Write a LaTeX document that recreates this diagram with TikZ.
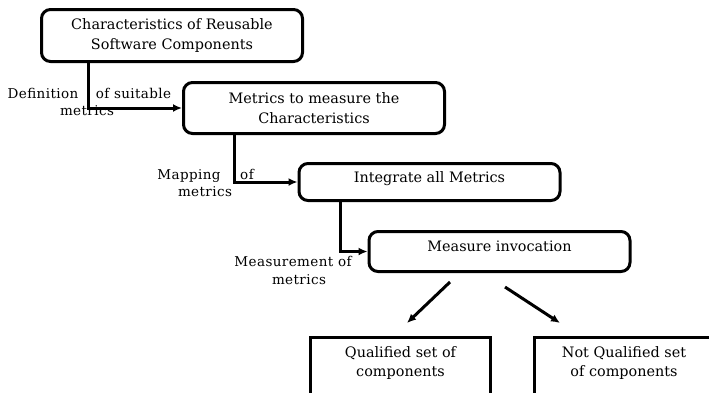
\documentclass[tikz,border=0pt]{standalone}
\usepackage{fontspec}
\setmainfont{DejaVu Serif}
\usetikzlibrary{arrows.meta,positioning,calc}

\begin{document}
\begin{tikzpicture}[x=1pt, y=-1pt,
    flowbox/.style={rectangle, draw=black, line width=3pt,
                 rounded corners=9pt, minimum width=261pt,
                 font=\fontsize{14.4}{19.5}\selectfont,
                 align=center, inner sep=2pt},
    outbox/.style={rectangle, draw=black, line width=3pt,
                 minimum width=180pt, minimum height=80pt,
                 font=\fontsize{14.4}{19.5}\selectfont,
                 align=center, anchor=north,
                 text height=11pt, text depth=13pt},
    arr/.style={-{Latex[length=9pt, width=8pt]}, line width=3pt},
    lbl/.style={font=\fontsize{13.5}{15}\selectfont\addfontfeature{LetterSpace=3},
                inner sep=0pt, text height=9.5pt, text depth=2.5pt},
  ]
  \clip (0,0) rectangle (709,392);

  % Main flow
  \node[flowbox, minimum height=52pt] (chars) at (172,35.5)
    {Characteristics of Reusable\\Software Components};
  \node[flowbox, minimum height=51pt] (metr) at (314,108)
    {Metrics to measure the\\Characteristics};
  \node[flowbox, minimum height=37pt, text height=11pt, text depth=11pt]
    (integ) at (429.5,182) {Integrate all Metrics};
  \node[flowbox, minimum height=40pt, text height=11pt, text depth=11pt]
    (meas) at (499.5,251.5) {Measure invocation};

  \draw[arr] ([xshift=-84pt]chars.south) |- (metr.west);
  \draw[arr] ([xshift=-80pt]metr.south) |- (integ.west);
  \draw[arr] ([xshift=-89.5pt]integ.south) |- (meas.west);

  % Labels on the connectors
  \node[lbl] (lbldef) at (43,95) {Definition};
  \node[lbl] (lblsuit) at (133.5,95) {of suitable};
  \node[lbl] (lblmetA) at (87,112) {metrics};
  \node[lbl] (lblmap) at (189,176) {Mapping};
  \node[lbl] (lblof) at (247,176) {of};
  \node[lbl] (lblmetB) at (205,193) {metrics};
  \node[lbl] (lblmeas) at (293,263) {Measurement of};
  \node[lbl] (lblmetC) at (299,281) {metrics};

  % Outcome
  \node[outbox] (qual) at (400.5,336) {Qualified set of\\components};
  \node[outbox] (nqual) at (624,336) {Not Qualified set\\of components};

  \draw[arr] ($(meas.south)+(-49.5,9)$) -- ($(qual.north)+(6.5,-13)$);
  \draw[arr] ($(meas.south)+(5.5,14)$) -- ($(nqual.north)+(-64,-13)$);
\end{tikzpicture}
\end{document}
